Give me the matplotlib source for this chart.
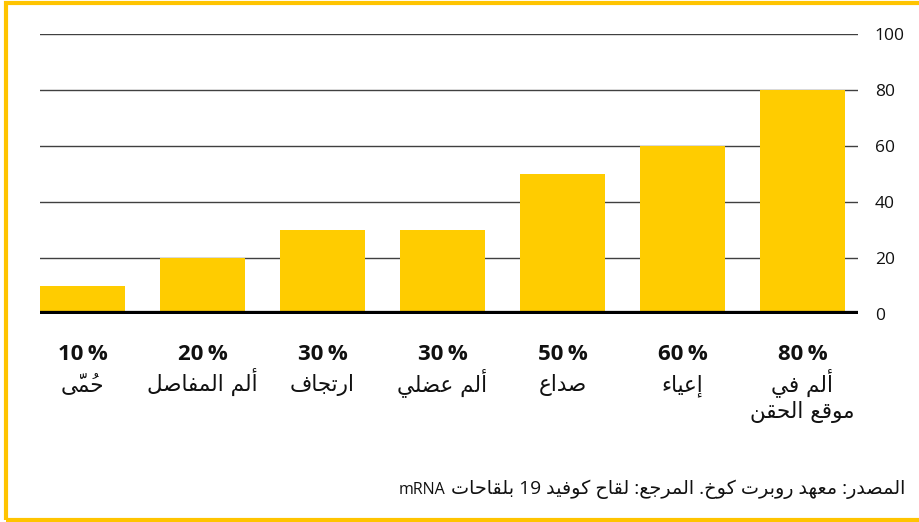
import re
import matplotlib
matplotlib.use('Agg')
from matplotlib import pyplot as plt, patches as mpatches, transforms as mtransforms

# data, left to right
categories = ['حُمّى', 'ألم المفاصل', 'ارتجاف', 'ألم عضلي', 'صداع', 'إعياء', 'ألم في\nموقع الحقن']
values = [10, 20, 30, 30, 50, 60, 80]
yticks = [0, 20, 40, 60, 80, 100]
source = 'المصدر: معهد روبرت كوخ. المرجع: لقاح كوفيد 19 بلقاحات'
source_tail = 'mRNA'

YELLOW = '#FFCC00'
FRAME = '#FFC400'

# matplotlib has no arabic shaping/bidi, so do a small one by hand:
# letter -> (first presentation form, number of forms)
FORMS = {0x0621: (0xFE80, 1), 0x0623: (0xFE83, 2), 0x0625: (0xFE87, 2), 0x0627: (0xFE8D, 2),
         0x0628: (0xFE8F, 4), 0x062A: (0xFE95, 4), 0x062C: (0xFE9D, 4), 0x062D: (0xFEA1, 4),
         0x062E: (0xFEA5, 4), 0x062F: (0xFEA9, 2), 0x0631: (0xFEAD, 2), 0x0635: (0xFEB9, 4),
         0x0636: (0xFEBD, 4), 0x0639: (0xFEC9, 4), 0x0641: (0xFED1, 4), 0x0642: (0xFED5, 4),
         0x0643: (0xFED9, 4), 0x0644: (0xFEDD, 4), 0x0645: (0xFEE1, 4), 0x0646: (0xFEE5, 4),
         0x0647: (0xFEE9, 4), 0x0648: (0xFEED, 2), 0x0649: (0xFEEF, 2), 0x064A: (0xFEF1, 4)}
LAM_ALEF = {0x0622: 0xFEF5, 0x0623: 0xFEF7, 0x0625: 0xFEF9, 0x0627: 0xFEFB}
MARKS = range(0x064B, 0x0653)


def shape(s):
    n = len(s)

    def neighbour(i, step):
        j = i + step
        while 0 <= j < n and ord(s[j]) in MARKS:
            j += step
        return s[j] if 0 <= j < n else ''

    res = []
    i = 0
    while i < n:
        o = ord(s[i])
        if o not in FORMS:
            res.append(s[i])
            i += 1
            continue
        base, kind = FORMS[o]
        p = neighbour(i, -1)
        nx = neighbour(i, 1)
        pj = p != '' and FORMS.get(ord(p), (0, 0))[1] == 4 and kind > 1
        if o == 0x0644 and nx and ord(nx) in LAM_ALEF:
            res.append(chr(LAM_ALEF[ord(nx)] + (1 if pj else 0)))
            i = s.index(nx, i + 1) + 1
            continue
        nj = kind == 4 and nx != '' and FORMS.get(ord(nx), (0, 0))[1] > 1
        res.append(chr(base + [0, 2, 1, 3][pj * 2 + nj] if kind > 1 else base))
        i += 1
    return ''.join(res)


def visual(s):
    # one line, rtl base direction; latin/digit runs keep their own order
    runs = re.findall(r'[A-Za-z0-9]+|[^A-Za-z0-9]+', s)
    parts = []
    for r in reversed(runs):
        if re.match(r'[A-Za-z0-9]', r):
            parts.append(r)
        else:
            parts.append(shape(r)[::-1])   # marks end up just before their base, which suits DejaVu
    return ''.join(parts)


W, H = 919, 522
fig = plt.figure(figsize=(W / 100, H / 100), dpi=100)
fig.set_facecolor('white')


def fy(px):
    return 1 - px / H


ax = fig.add_axes([40 / W, fy(314), (858 - 40) / W, (314 - 34) / H])
x = list(range(len(values)))
ax.bar(x, values, width=85 / 120, color=YELLOW, zorder=3)
ax.set_xlim(-42.5 / 120, 6 + 55.5 / 120)
ax.set_ylim(0, 100)
for t in yticks[1:]:
    ax.axhline(t, color='#404040', lw=1.0, zorder=1)
ax.axhline(0, color='black', lw=4.5, zorder=4, solid_capstyle='butt')

for s in ax.spines.values():
    s.set_visible(False)
ax.set_xticks([])
ax.yaxis.tick_right()
ax.set_yticks(yticks)
ax.tick_params(axis='y', length=0, pad=12, labelsize=12.5, labelcolor='#111111')
for lab in ax.get_yticklabels():
    lab.set_family(['Open Sans', 'DejaVu Sans'])

tr = mtransforms.blended_transform_factory(ax.transData, fig.transFigure)
for xi, v, name in zip(x, values, categories):
    ax.text(xi, fy(354), f'{v}\u2009%', transform=tr, ha='center', va='center',
            fontsize=16, fontweight='bold', family=['Open Sans', 'DejaVu Sans'], color='#111111')
    for k, line in enumerate(name.split('\n')):
        ax.text(xi, fy(391 + 27 * k), visual(line), transform=tr, ha='center', va='baseline',
                fontsize=15.5, family=['DejaVu Sans'], color='#111111')

src = fig.text(905 / W, fy(494), visual(source), ha='right', va='baseline', fontsize=13.8,
               family=['Open Sans', 'DejaVu Sans'], color='#111111')
fig.canvas.draw()
left = src.get_window_extent().x0
fig.text(left - 5, fy(494) * H, source_tail, transform=None, ha='right', va='baseline',
         fontsize=11.5, family=['Open Sans'], color='#111111')

# yellow frame, right side runs off the picture
fig.patches.append(mpatches.Rectangle((6 / W, fy(520)), (940 - 6) / W, (520 - 2.5) / H,
                                      transform=fig.transFigure, fill=False,
                                      edgecolor=FRAME, lw=3, clip_on=False))

fig.savefig('out.png', dpi=100)
